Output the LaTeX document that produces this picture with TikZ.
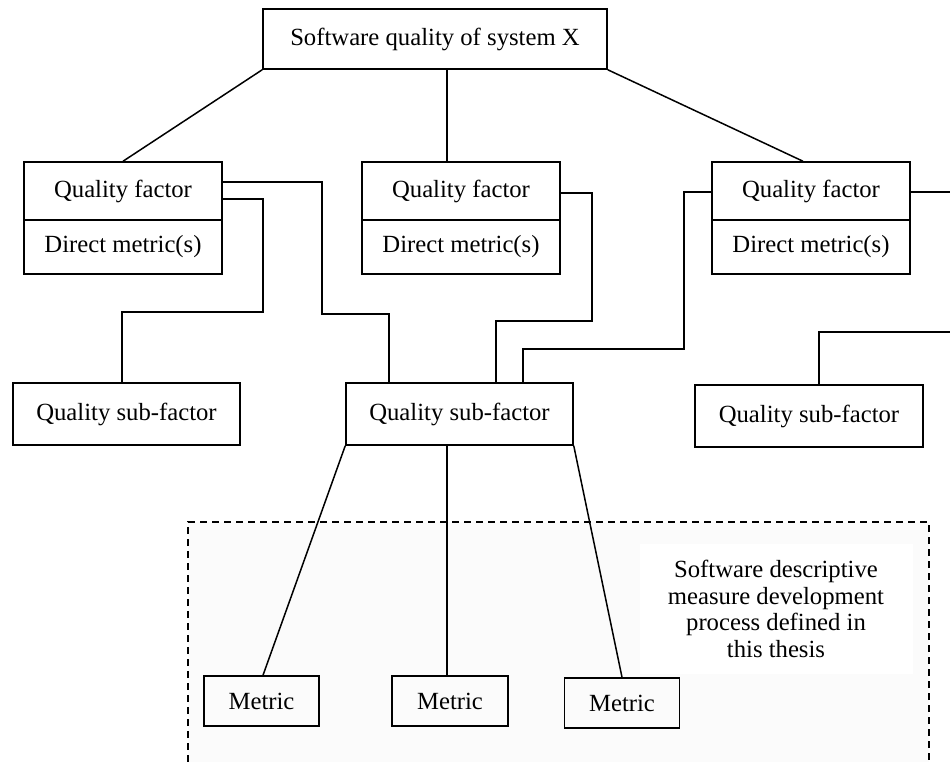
\documentclass[tikz,border=0pt]{standalone}
\usepackage{fontspec}
\setmainfont{Liberation Serif}
\usetikzlibrary{calc}
\begin{document}
\begin{tikzpicture}[x=1pt,y=-1pt,
  every node/.style={font=\fontsize{24.7}{26.7}\selectfont, inner sep=0pt},
  box/.style={draw, line width=1.5pt, minimum height=#1},
  box/.default=60pt,
  link/.style={line width=1.5pt},
  region/.style={line width=2pt, dash pattern=on 7pt off 5pt}]
\useasboundingbox (0,0) rectangle (950,762);

% dashed region of the measure development process
\fill[black!1.5] (188,522) rectangle (929,762);
\draw[region] (188,762) -- (188,522) -- (929,522) -- (929,762);
\node[fill=white, minimum width=273pt, minimum height=130pt, align=center] (note) at (776,609)
  {Software descriptive\\measure development\\process defined in\\this thesis};

% root
\node[box=60pt, minimum width=344pt] (top) at (435,39) {Software quality of system X};

% quality factors with their direct metrics
\foreach \n/\x in {1/123, 2/461, 3/811}{
  \node[box=58pt, minimum width=198pt] (qf\n) at (\x,191) {Quality factor};
  \node[box=54pt, minimum width=198pt] (dm\n) at (\x,247) {Direct metric(s)};
}

% quality sub-factors
\node[box=62pt, minimum width=227pt] (sub1) at (126.5,414) {Quality sub-factor};
\node[box=62pt, minimum width=227pt] (sub2) at (459.5,414) {Quality sub-factor};
\node[box=62pt, minimum width=228pt] (sub3) at (809,416) {Quality sub-factor};

% metrics
\node[box=50pt, minimum width=115pt] (m1) at (261.5,701) {Metric};
\node[box=50pt, minimum width=116pt] (m2) at (450,701) {Metric};
\node[box=50pt, minimum width=115pt] (m3) at (622,703) {Metric};

\coordinate (out1) at (950,192);
\coordinate (out2) at (950,332);

% root to factors
\draw[link] (top.south west) -- (qf1.north);
\draw[link] ([xshift=12pt]top.south) -- ([xshift=12pt]top.south |- qf2.north);
\draw[link] (top.south east) -- ([xshift=-8pt]qf3.north);

% factors to sub-factors
\draw[link] ([yshift=9pt]qf1.east) -| (322,314) -| ([xshift=-70.5pt]sub2.north);
\draw[link] ([yshift=-8pt]qf1.east) -| (263,312) -| ([xshift=-4.5pt]sub1.north);
\draw[link] ([yshift=-2pt]qf2.east) -| (592,321) -| ([xshift=36.5pt]sub2.north);
\draw[link] ([yshift=-1pt]qf3.west) -| (684,349) -| ([xshift=63.5pt]sub2.north);
\draw[link] ([yshift=-1pt]qf3.east) -- (out1);
\draw[link] ([xshift=10pt]sub3.north) |- (out2);

% sub-factor to metrics
\draw[link] (sub2.south west) -- ([xshift=1.5pt]m1.north);
\draw[link] ([xshift=-12.5pt]sub2.south) -- ([xshift=-12.5pt]sub2.south |- m2.north);
\draw[link] (sub2.south east) -- (m3.north);
\end{tikzpicture}
\end{document}
